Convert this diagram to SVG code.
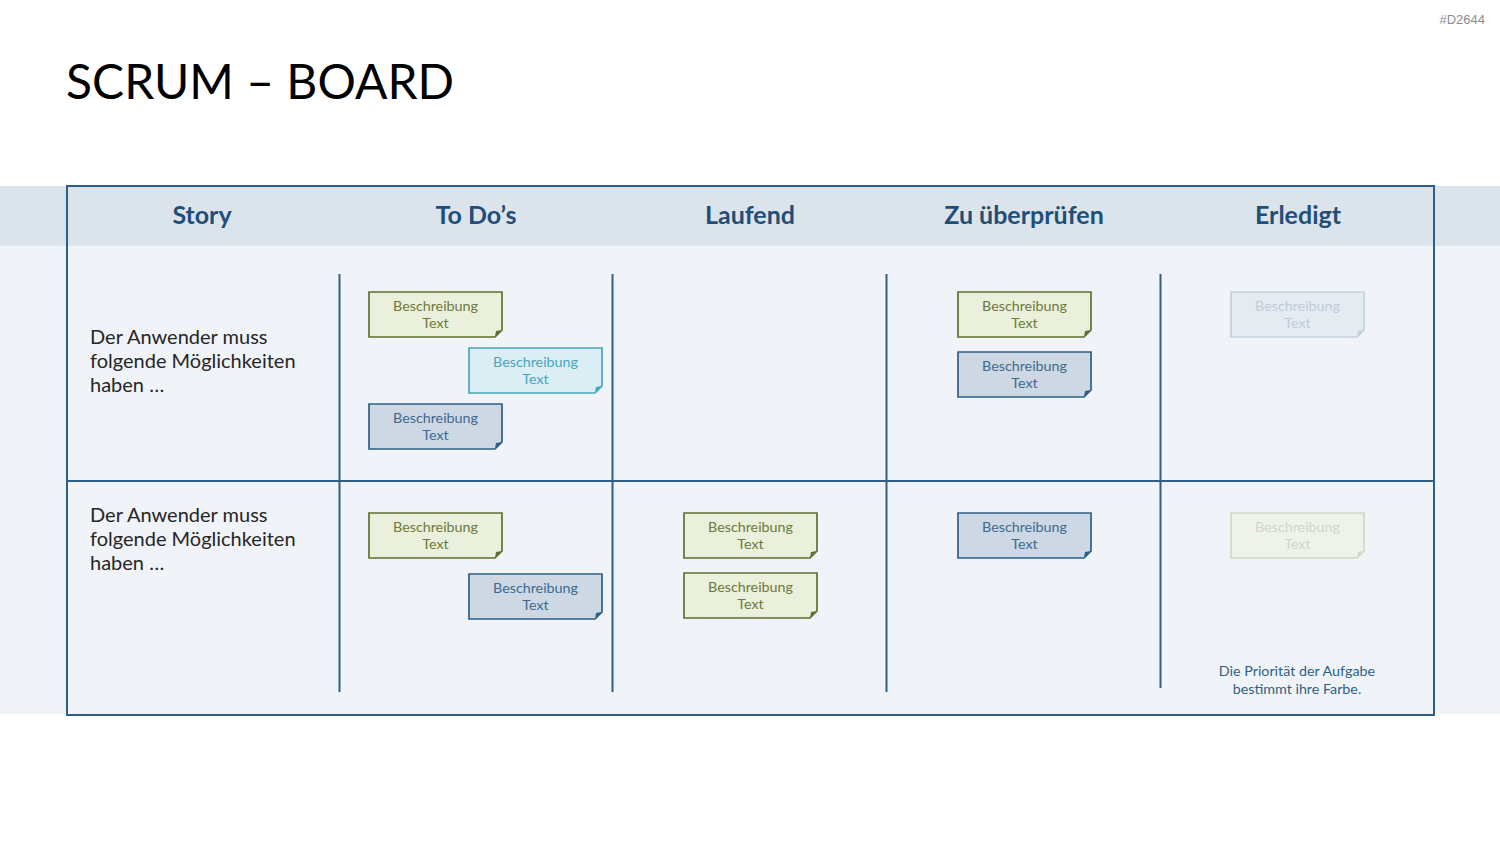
<svg xmlns="http://www.w3.org/2000/svg" width="1500" height="844" viewBox="0 0 1500 844">
<defs>
<style>
text{font-family:Lato,"Open Sans","Liberation Sans",sans-serif}
.hd{font-size:25px;font-weight:bold;fill:#1f4e79;text-anchor:middle}
.st{font-size:20px;fill:#262626}
.nt{font-size:14.3px;text-anchor:middle}
.grid{stroke:#2e5f86;stroke-width:2;fill:none}
path.b{stroke-width:1.7}
.g path.b{fill:#ebf0dc;stroke:#5f7030}
.g path.f{fill:#5f7030}
.g text{fill:#6b7a3a}
.c path.b{fill:#dbeef4;stroke:#4aa5bf}
.c path.f{fill:#4aa5bf}
.c text{fill:#4aa5bf}
.bl path.b{fill:#cdd8e4;stroke:#2e5f86}
.bl path.f{fill:#2e5f86}
.bl text{fill:#3d6a90}
.fb path.b{fill:#e4ebf1;stroke:#c3d1dd}
.fb path.f{fill:#c3d1dd}
.fb text{fill:#bfcbd7}
.fg path.b{fill:#eef2eb;stroke:#d0d9c6}
.fg path.f{fill:#d0d9c6}
.fg text{fill:#cfd7c8}
</style>
</defs>
<rect width="1500" height="844" fill="#ffffff"/>
<text x="1485" y="24" font-size="13" fill="#8c8c8c" text-anchor="end" style="font-family:'Liberation Sans',sans-serif">#D2644</text>
<text id="title" x="66" y="99" font-size="48" fill="#000000" textLength="388" lengthAdjust="spacing">SCRUM – BOARD</text>
<rect x="0" y="186" width="1500" height="528" fill="#f0f4f8"/>
<rect x="0" y="186" width="1500" height="60" fill="#dce4eb"/>
<g id="grid" class="grid">
<rect x="67" y="186" width="1367" height="529"/>
<line x1="67" y1="481" x2="1434" y2="481"/>
<line x1="339.5" y1="274" x2="339.5" y2="692"/>
<line x1="612.5" y1="274" x2="612.5" y2="692"/>
<line x1="886.5" y1="274" x2="886.5" y2="692"/>
<line x1="1160.5" y1="274" x2="1160.5" y2="688"/>
</g>
<g id="headers">
<text class="hd" x="202" y="224">Story</text>
<text class="hd" x="476" y="224">To Do’s</text>
<text class="hd" x="750" y="224">Laufend</text>
<text class="hd" x="1024" y="224">Zu überprüfen</text>
<text class="hd" x="1298" y="224">Erledigt</text>
</g>
<g id="story1">
<text class="st" x="90" y="344">Der Anwender muss</text>
<text class="st" x="90" y="368">folgende Möglichkeiten</text>
<text class="st" x="90" y="392">haben …</text>
</g>
<g id="story2">
<text class="st" x="90" y="522">Der Anwender muss</text>
<text class="st" x="90" y="546">folgende Möglichkeiten</text>
<text class="st" x="90" y="570">haben …</text>
</g>
<g id="n1" class="g" transform="translate(369,292)"><path class="b" d="M0,0 H133 V38 L126,45 H0 Z"/><path class="f" d="M133,38 L126,45 L127,39 Z"/><text class="nt" x="66.5" y="19">Beschreibung</text><text class="nt" x="66.5" y="36">Text</text></g>
<g id="n2" class="c" transform="translate(469,348)"><path class="b" d="M0,0 H133 V38 L126,45 H0 Z"/><path class="f" d="M133,38 L126,45 L127,39 Z"/><text class="nt" x="66.5" y="19">Beschreibung</text><text class="nt" x="66.5" y="36">Text</text></g>
<g id="n3" class="bl" transform="translate(369,404)"><path class="b" d="M0,0 H133 V38 L126,45 H0 Z"/><path class="f" d="M133,38 L126,45 L127,39 Z"/><text class="nt" x="66.5" y="19">Beschreibung</text><text class="nt" x="66.5" y="36">Text</text></g>
<g id="n4" class="g" transform="translate(958,292)"><path class="b" d="M0,0 H133 V38 L126,45 H0 Z"/><path class="f" d="M133,38 L126,45 L127,39 Z"/><text class="nt" x="66.5" y="19">Beschreibung</text><text class="nt" x="66.5" y="36">Text</text></g>
<g id="n5" class="bl" transform="translate(958,352)"><path class="b" d="M0,0 H133 V38 L126,45 H0 Z"/><path class="f" d="M133,38 L126,45 L127,39 Z"/><text class="nt" x="66.5" y="19">Beschreibung</text><text class="nt" x="66.5" y="36">Text</text></g>
<g id="n6" class="fb" transform="translate(1231,292)"><path class="b" d="M0,0 H133 V38 L126,45 H0 Z"/><path class="f" d="M133,38 L126,45 L127,39 Z"/><text class="nt" x="66.5" y="19">Beschreibung</text><text class="nt" x="66.5" y="36">Text</text></g>
<g id="n7" class="g" transform="translate(369,513)"><path class="b" d="M0,0 H133 V38 L126,45 H0 Z"/><path class="f" d="M133,38 L126,45 L127,39 Z"/><text class="nt" x="66.5" y="19">Beschreibung</text><text class="nt" x="66.5" y="36">Text</text></g>
<g id="n8" class="bl" transform="translate(469,574)"><path class="b" d="M0,0 H133 V38 L126,45 H0 Z"/><path class="f" d="M133,38 L126,45 L127,39 Z"/><text class="nt" x="66.5" y="19">Beschreibung</text><text class="nt" x="66.5" y="36">Text</text></g>
<g id="n9" class="g" transform="translate(684,513)"><path class="b" d="M0,0 H133 V38 L126,45 H0 Z"/><path class="f" d="M133,38 L126,45 L127,39 Z"/><text class="nt" x="66.5" y="19">Beschreibung</text><text class="nt" x="66.5" y="36">Text</text></g>
<g id="n10" class="g" transform="translate(684,573)"><path class="b" d="M0,0 H133 V38 L126,45 H0 Z"/><path class="f" d="M133,38 L126,45 L127,39 Z"/><text class="nt" x="66.5" y="19">Beschreibung</text><text class="nt" x="66.5" y="36">Text</text></g>
<g id="n11" class="bl" transform="translate(958,513)"><path class="b" d="M0,0 H133 V38 L126,45 H0 Z"/><path class="f" d="M133,38 L126,45 L127,39 Z"/><text class="nt" x="66.5" y="19">Beschreibung</text><text class="nt" x="66.5" y="36">Text</text></g>
<g id="n12" class="fg" transform="translate(1231,513)"><path class="b" d="M0,0 H133 V38 L126,45 H0 Z"/><path class="f" d="M133,38 L126,45 L127,39 Z"/><text class="nt" x="66.5" y="19">Beschreibung</text><text class="nt" x="66.5" y="36">Text</text></g>
<g id="legend">
<text class="nt" x="1297" y="676" fill="#2e5f86">Die Priorität der Aufgabe</text>
<text class="nt" x="1297" y="694" fill="#2e5f86">bestimmt ihre Farbe.</text>
</g>
</svg>
